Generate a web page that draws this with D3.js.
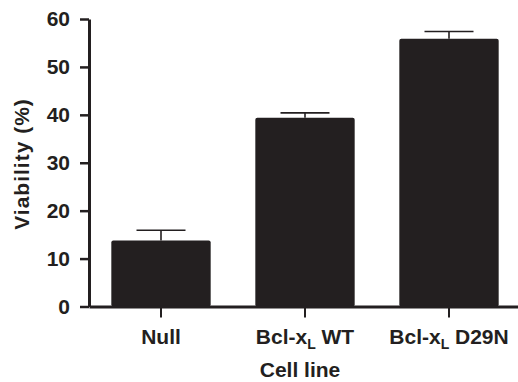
<!DOCTYPE html>
<html>
<head>
<meta charset="utf-8">
<script src="https://cdn.jsdelivr.net/npm/d3@7"></script>
<style>
  body { margin: 0; background: #fff; }
  text { font-family: "Liberation Sans", Arial, sans-serif; font-weight: bold; fill: #231f20; }
</style>
</head>
<body>
<div id="chart"></div>
<script>
// data
const categories = ['Null', 'Bcl-x_L WT', 'Bcl-x_L D29N'];
const viability = [13.8, 39.4, 55.9];
const sem = [2.1, 1.0, 1.5];
const yTicks = [0, 10, 20, 30, 40, 50, 60];

const width = 518, height = 382;
const ink = '#231f20';

const svg = d3.select('#chart')
  .append('svg')
  .attr('width', width)
  .attr('height', height);

// scales
const x = d3.scaleBand()
  .domain(categories)
  .range([89, 521])
  .paddingInner(0.31)
  .paddingOuter(0.155);

const y = d3.scaleLinear()
  .domain([0, 60])
  .range([306.5, 19]);

// bars
svg.selectAll('.bar')
  .data(categories)
  .enter()
  .append('rect')
  .attr('class', 'bar')
  .attr('x', d => x(d))
  .attr('width', x.bandwidth())
  .attr('y', (d, i) => y(viability[i]))
  .attr('height', (d, i) => y(0) - y(viability[i]))
  .attr('rx', 2)
  .attr('fill', ink);

// error bars (upper half only, as in the original)
const err = svg.selectAll('.err')
  .data(categories)
  .enter()
  .append('g')
  .attr('class', 'err')
  .attr('stroke', ink)
  .attr('stroke-width', 1.6);

err.append('line')
  .attr('x1', d => x(d) + x.bandwidth() / 2)
  .attr('x2', d => x(d) + x.bandwidth() / 2)
  .attr('y1', (d, i) => y(viability[i]))
  .attr('y2', (d, i) => y(viability[i] + sem[i]));

err.append('line')
  .attr('x1', d => x(d) + x.bandwidth() / 2 - 24.5)
  .attr('x2', d => x(d) + x.bandwidth() / 2 + 24.5)
  .attr('y1', (d, i) => y(viability[i] + sem[i]))
  .attr('y2', (d, i) => y(viability[i] + sem[i]));

// y axis
const yAxis = svg.append('g')
  .attr('transform', 'translate(89,0)')
  .call(d3.axisLeft(y).tickValues(yTicks).tickSize(9).tickSizeOuter(0).tickPadding(10));

// x axis
const xAxis = svg.append('g')
  .attr('transform', `translate(0,${y(0)})`)
  .call(d3.axisBottom(x).tickSize(11).tickSizeOuter(0).tickFormat(''));

[yAxis, xAxis].forEach(g => {
  g.select('.domain').attr('stroke', ink).attr('stroke-width', 3);
  g.selectAll('.tick line').attr('stroke', ink).attr('stroke-width', 2.5);
});
xAxis.selectAll('.tick line').attr('stroke-width', 2);

yAxis.selectAll('.tick text')
  .attr('font-size', 21)
  .attr('font-family', null)
  .attr('fill', null);

// category labels with subscript L
xAxis.selectAll('.tick').each(function (d) {
  const t = d3.select(this).append('text')
    .attr('y', 37.5)
    .attr('text-anchor', 'middle')
    .attr('font-size', 21);
  const parts = d.split('_L');
  t.append('tspan').text(parts[0]);
  if (parts.length > 1) {
    t.append('tspan').attr('font-size', 14).attr('dy', 5).text('L');
    t.append('tspan').attr('dy', -5).text('\u00a0' + parts[1].trim());
  }
});

// axis titles
svg.append('text')
  .attr('x', 300)
  .attr('y', 376.5)
  .attr('text-anchor', 'middle')
  .attr('font-size', 21)
  .text('Cell line');

svg.append('text')
  .attr('transform', 'translate(28.5,164) rotate(-90)')
  .attr('text-anchor', 'middle')
  .attr('font-size', 21)
  .attr('letter-spacing', 1)
  .text('Viability (%)');
</script>
</body>
</html>
